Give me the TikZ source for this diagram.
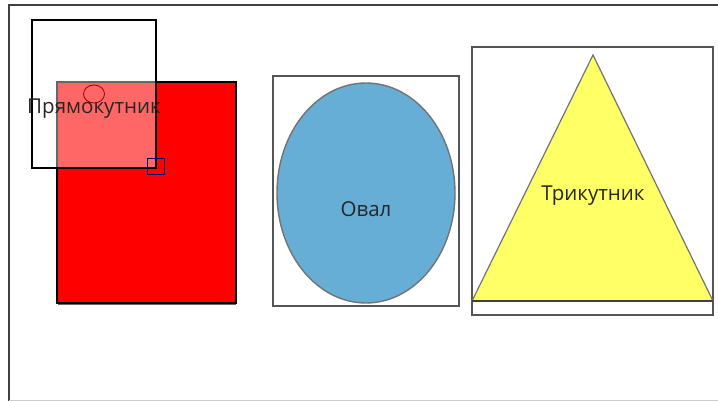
\documentclass[tikz,border=0pt]{standalone}
\usepackage{fontspec}
\setmainfont{Open Sans}
\usetikzlibrary{shapes.geometric}
\definecolor{ovalblue}{HTML}{67AED6}
\definecolor{triyellow}{HTML}{FFFF66}
\definecolor{edgegray}{HTML}{555555}
\begin{document}
\begin{tikzpicture}[x=1pt,y=-1pt,
  framebox/.style={draw=edgegray,line width=1.3pt},
  lbl/.style={font=\fontsize{20.5}{24}\selectfont,text=black!85}]
\useasboundingbox (0,0) rectangle (718,401);
\fill[white] (0,0) rectangle (718,401);
% outer page frame
\draw[line width=1.2pt,black!75] (718,5) -- (9,5) -- (9,401);
\draw[line width=1pt,black!20] (9,400) -- (718,400);
% red rectangle
\draw[fill=red,line width=1.6pt] (57,82) rectangle (236,303);
\draw[line width=1.2pt,black!60] (58,304.5) -- (236,304.5);
% selection frame with translucent white fill
\fill[white,opacity=0.4] (32,20) rectangle (156,168);
\draw[line width=2.2pt] (32,20) rectangle (156,168);
\draw[draw=red!60!black,line width=0.8pt] (94,94) ellipse (10.5 and 9);
\draw[draw=blue!40!black,line width=1pt] (147,159) rectangle (164,175);
\node[lbl] (rect) at (94,109) {Прямокутник};
% oval
\draw[framebox] (273,76) rectangle (459,306);
\node[ellipse,draw=black!55,line width=1.4pt,fill=ovalblue,minimum width=178,minimum height=220,inner sep=0] (oval) at (366,193) {};
\node[lbl] at (366,209) {Овал};
% triangle
\draw[framebox] (472,47) rectangle (713,315);
\coordinate (apex) at (593,55);
\coordinate (bl) at (472,301);
\coordinate (br) at (713,301);
\draw[fill=triyellow,draw=black!55,line width=1.2pt] (apex) -- (br) -- (bl) -- cycle;
\draw[line width=1.5pt,black!75] (bl) -- (br);
\node[lbl] (tri) at (593,196) {Трикутник};
\end{tikzpicture}
\end{document}
